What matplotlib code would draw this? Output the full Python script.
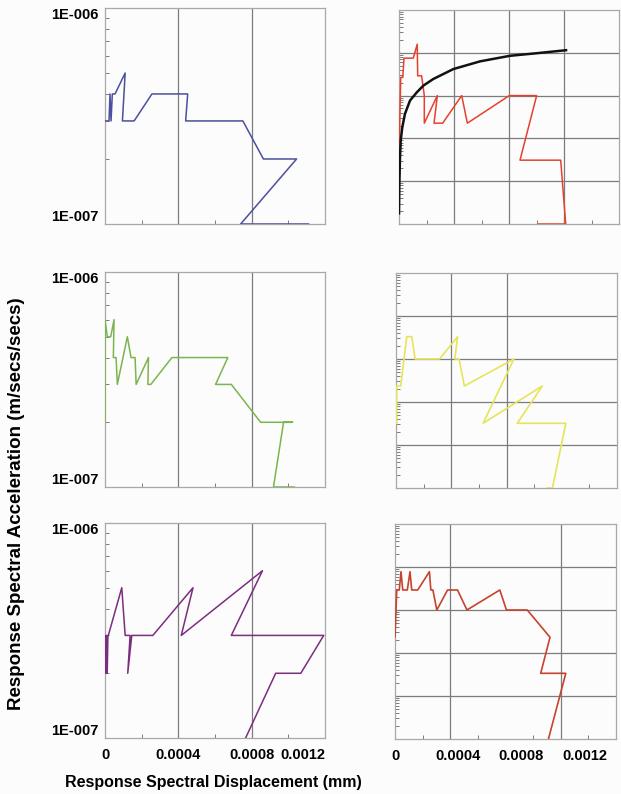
"""Capacity / demand spectra, six panels"""

import matplotlib.pyplot as plt
import matplotlib.transforms as mtransforms
from matplotlib.ticker import FixedLocator, LogLocator, NullFormatter

plt.rcParams['font.family'] = ['Liberation Sans', 'DejaVu Sans']

# ---- left column (1E-007 .. 1E-006) ----
blue_x = [0, 0.0000219, 0.0000274, 0.0000329, 0.00004, 0.0000548, 0.00011, 0.000095,
          0.000159, 0.000256, 0.000451, 0.00044, 0.000752, 0.000864, 0.001045, 0.00074, 0.00111]
blue_y = [3e-7, 3e-7, 4e-7, 3e-7, 4e-7, 4e-7, 5e-7, 3e-7,
          3e-7, 4e-7, 4e-7, 3e-7, 3e-7, 2e-7, 2e-7, 1e-7, 1e-7]

green_x = [0, 0, 0.0000126, 0.0000312, 0.0000493, 0.0000455, 0.0000603, 0.0000674, 0.000122,
           0.000142, 0.000164, 0.00017, 0.000237, 0.000234, 0.00025, 0.000365, 0.00067,
           0.000603, 0.000689, 0.000849, 0.001023, 0.000974, 0.000919, 0.001032]
green_y = [2.05e-7, 6e-7, 5e-7, 5e-7, 6e-7, 4e-7, 4e-7, 3e-7, 5e-7,
           4e-7, 4e-7, 3e-7, 4e-7, 3e-7, 3e-7, 4e-7, 4e-7,
           3e-7, 3e-7, 2e-7, 2e-7, 2e-7, 1e-7, 1e-7]

purple_x = [0, 0.000004, 0.000008, 0.000012, 0.000016, 0.0000181, 0.0000915, 0.00011,
            0.000137, 0.000124, 0.000146, 0.000261, 0.00048, 0.000416, 0.000859,
            0.000689, 0.001193, 0.001068, 0.000931, 0.000767]
purple_y = [3e-7, 2e-7, 3e-7, 2e-7, 3e-7, 3e-7, 5e-7, 3e-7,
            3e-7, 2e-7, 3e-7, 3e-7, 5e-7, 3e-7, 6e-7,
            3e-7, 3e-7, 2e-7, 2e-7, 1e-7]

# ---- right column (five decades) ----
red_x = [0, 0.000011, 0.000024, 0.000032, 0.000091, 0.000116, 0.000119, 0.000144,
         0.000161, 0.000161, 0.000244, 0.000223, 0.000278, 0.000399, 0.000435,
         0.000702, 0.000876, 0.00077, 0.001029, 0.001061, 0.000886]
red_y = [3.1e-9, 2.67e-7, 2.67e-7, 7.5e-7, 7.5e-7, 1.59e-6, 2.9e-7, 2.9e-7,
         1e-7, 2.27e-8, 1e-7, 2.27e-8, 2.27e-8, 1e-7, 2.27e-8,
         1e-7, 1e-7, 3.1e-9, 3.1e-9, 1e-10, 1e-10]

demand_x = [0, 0.0000019, 0.0000064, 0.000011, 0.000021, 0.000038, 0.00007, 0.000113,
            0.000155, 0.000218, 0.000346, 0.000516, 0.000706, 0.000876, 0.001063]
demand_y = [1.77e-10, 7.4e-10, 3.67e-9, 8.97e-9, 1.83e-8, 3.75e-8, 7.66e-8, 1.19e-7,
            1.71e-7, 2.44e-7, 4.17e-7, 6.31e-7, 8.51e-7, 9.77e-7, 1.15e-6]

yellow_x = [0.000004, 0.000004, 0.00003, 0.000068, 0.0001, 0.000121, 0.000276, 0.00039,
            0.000373, 0.0004, 0.000433, 0.000747, 0.000552, 0.000927, 0.000768,
            0.001076, 0.000991, 0.000959]
yellow_y = [3.2e-9, 2.36e-8, 2.36e-8, 3.3e-7, 3.3e-7, 1e-7, 1e-7, 3.3e-7,
            1e-7, 1e-7, 2.36e-8, 1e-7, 3.2e-9, 2.36e-8, 3.2e-9,
            3.2e-9, 1e-10, 1e-10]

brown_x = [0, 0.0000064, 0.000011, 0.000027, 0.000038, 0.000049, 0.000078, 0.000095,
           0.000106, 0.000144, 0.000218, 0.000227, 0.00024, 0.000265, 0.000333,
           0.000396, 0.000456, 0.000664, 0.000706, 0.000838, 0.000982, 0.000923,
           0.001082, 0.000972]
brown_y = [2.39e-8, 1e-7, 2.92e-7, 2.92e-7, 7.78e-7, 2.92e-7, 2.92e-7, 7.78e-7,
           2.92e-7, 2.92e-7, 7.78e-7, 2.92e-7, 2.92e-7, 1e-7, 2.92e-7,
           2.92e-7, 1e-7, 2.92e-7, 1e-7, 1e-7, 2.32e-8, 3.37e-9,
           3.37e-9, 1e-10]

left_ticks = [0, 0.0004, 0.0008, 0.0012]
left_tick_labels = ['0', '0.0004', '0.0008', '0.0012']

bg = '#fcfcfc'
frame_c = '#a8a8a8'
grid_c = '#7c7c7c'

fig = plt.figure(figsize=(6.21, 7.94), dpi=100, facecolor=bg)
W, H = 621, 794


def add_axes(x0, y0, x1, y1):
    return fig.add_axes([x0 / W, 1 - y1 / H, (x1 - x0) / W, (y1 - y0) / H], facecolor=bg)


def style_common(ax):
    ax.set_yscale('log')
    for s in ax.spines.values():
        s.set_color(frame_c)
        s.set_linewidth(0.9)
    ax.tick_params(which='major', length=0, labelleft=False, labelbottom=False,
                   pad=7, labelsize=10.5)
    ax.tick_params(which='minor', direction='in', length=3, width=0.7, color=grid_c,
                   top=False, right=False)
    ax.yaxis.set_major_locator(FixedLocator([]))
    ax.yaxis.set_minor_locator(LogLocator(base=10, subs=range(2, 10), numticks=20))
    ax.yaxis.set_minor_formatter(NullFormatter())


def style_left(ax, labels):
    style_common(ax)
    ax.set_xlim(0, 0.0012)
    ax.set_ylim(1e-7, 1e-6)
    ax.set_xticks(left_ticks)
    ax.set_xticks([0.0002, 0.0006, 0.001], minor=True)
    for gx in [0.0004, 0.0008]:
        ax.axvline(gx, color=grid_c, lw=0.9, zorder=1)
    tr = mtransforms.blended_transform_factory(ax.transAxes, ax.transData)
    ax.text(-0.03, 1e-6, '1E-006', transform=tr, ha='right', va='top',
            fontsize=10.5, fontweight='bold')
    ax.text(-0.03, 1e-7, '1E-007', transform=tr, ha='right', va='bottom',
            fontsize=10.5, fontweight='bold')
    if labels:
        ax.set_xticklabels(left_tick_labels, fontweight='bold')
        ax.tick_params(which='major', labelbottom=True)
        ax.get_xticklabels()[-1].set_ha('right')


def style_right(ax, vlines, labels):
    style_common(ax)
    step = 0.00035
    ax.set_xlim(0, 4 * step)
    ax.set_ylim(1e-10, 1e-5)
    ax.set_xticks([step * k for k in (0.5, 1.5, 2.5, 3.5)], minor=True)
    ax.set_xticks(left_ticks)
    for k in vlines:
        ax.axvline(k * step, color=grid_c, lw=0.9, zorder=1)
    for gy in [1e-9, 1e-8, 1e-7, 1e-6]:
        ax.axhline(gy, color=grid_c, lw=0.9, zorder=1)
    if labels:
        ax.set_xticklabels(left_tick_labels, fontweight='bold')
        ax.tick_params(which='major', labelbottom=True)


ax1 = add_axes(105, 8, 325, 224)
style_left(ax1, False)
ax1.plot(blue_x, blue_y, color='#4b4f9c', lw=1.1, zorder=3)

ax3 = add_axes(105, 272, 325, 487)
style_left(ax3, False)
ax3.plot(green_x, green_y, color='#7cb54f', lw=1.1, zorder=3)

ax5 = add_axes(105, 523, 325, 738)
style_left(ax5, True)
ax5.plot(purple_x, purple_y, color='#7b2d7f', lw=1.1, zorder=3)

ax2 = add_axes(399, 10, 619, 224)
style_right(ax2, [1, 2, 3], False)
ax2.plot(red_x, red_y, color='#e5412d', lw=1.1, zorder=3)
ax2.plot(demand_x, demand_y, color='#111111', lw=1.8, zorder=4)

ax4 = add_axes(396, 273, 617, 488)
style_right(ax4, [1, 2], False)
ax4.plot(yellow_x, yellow_y, color='#e6e45a', lw=1.2, zorder=3)

ax6 = add_axes(395, 524, 616, 739)
style_right(ax6, [1, 3], True)
ax6.plot(brown_x, brown_y, color='#c4442d', lw=1.2, zorder=3)

fig.text(17 / W, 1 - 504 / H, 'Response Spectral Acceleration (m/secs/secs)',
         rotation=90, ha='center', va='center', fontsize=13.5, fontweight='bold')
fig.text(213 / W, 1 - 782 / H, 'Response Spectral Displacement (mm)',
         ha='center', va='center', fontsize=11.5, fontweight='bold')

fig.savefig('out.png', dpi=100, facecolor=bg)
